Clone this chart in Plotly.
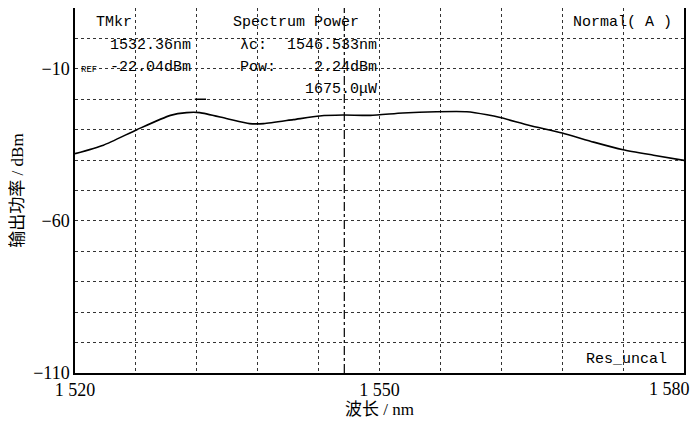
import plotly.graph_objects as go

# Spectrum trace (nm, dBm)
wavelength_nm = [1520.0, 1522.8, 1526.1, 1529.4, 1531.0, 1532.3, 1535.0, 1537.2, 1538.6,
                 1541.5, 1544.1, 1546.4, 1549.1, 1552.3, 1555.6, 1558.6, 1560.6, 1562.0,
                 1564.8, 1568.0, 1571.1, 1574.0, 1577.0, 1580.0]
power_dbm = [-37.9, -35.1, -30.0, -25.3, -24.4, -24.4, -26.4, -28.0, -28.0,
             -26.7, -25.5, -25.2, -25.3, -24.5, -24.1, -24.1, -25.1, -26.1,
             -28.6, -31.1, -34.1, -36.6, -38.4, -40.1]

center_nm = 1546.533
tmkr_nm = 1532.36
tmkr_mark_dbm = -20.0

x_tickvals = [1520, 1550, 1580]
x_ticktext = ["1 520", "1 550", "1 580"]
y_tickvals = [-10, -60, -110]
y_ticktext = ["\u221210", "\u221260", "\u2212110"]

X_RANGE = [1520, 1580]
Y_RANGE = [-110, 10]

fig = go.Figure()
fig.add_trace(go.Scatter(x=wavelength_nm, y=power_dbm, mode="lines",
                         line=dict(color="black", width=1.6, shape="spline", smoothing=0.6),
                         showlegend=False, hoverinfo="skip"))
fig.add_trace(go.Scatter(x=[center_nm, center_nm], y=Y_RANGE, mode="lines",
                         line=dict(color="black", width=1.2, dash="dashdot"),
                         showlegend=False, hoverinfo="skip"))
fig.add_trace(go.Scatter(x=[tmkr_nm], y=[tmkr_mark_dbm], mode="markers",
                         marker=dict(symbol="line-ew", size=8, line=dict(color="black", width=1.5)),
                         showlegend=False, hoverinfo="skip"))

serif = "Liberation Serif, Times New Roman, serif"
cjk = "Liberation Serif, Noto Sans CJK SC, serif"
mono = "Liberation Mono, DejaVu Sans Mono, monospace"
grid_col = "#333333"

# last x tick label sits at the window edge, so it is drawn right-aligned separately
axis_ticktext = x_ticktext[:-1] + [""]

fig.update_xaxes(range=X_RANGE, tickvals=x_tickvals, ticktext=axis_ticktext,
                 showgrid=True, gridcolor=grid_col, griddash="dot", gridwidth=1,
                 minor=dict(tick0=1520, dtick=6, showgrid=True, gridcolor=grid_col,
                            griddash="dot", gridwidth=1),
                 showline=True, linecolor="black", linewidth=1.5, mirror=True,
                 ticks="", zeroline=False, automargin=False, ticklabeloverflow="allow",
                 tickfont=dict(family=serif, size=18, color="black"),
                 title=dict(text="波长 / nm", font=dict(family=cjk, size=17, color="black"),
                            standoff=4))
fig.update_yaxes(range=Y_RANGE, tickvals=y_tickvals, ticktext=y_ticktext,
                 showgrid=True, gridcolor=grid_col, griddash="dot", gridwidth=1,
                 minor=dict(tick0=-110, dtick=10, showgrid=True, gridcolor=grid_col,
                            griddash="dot", gridwidth=1),
                 showline=True, linecolor="black", linewidth=1.5, mirror=True,
                 ticks="", zeroline=False, automargin=False, ticklabeloverflow="allow",
                 tickfont=dict(family=serif, size=18, color="black"),
                 title=dict(text="输出功率 / dBm", font=dict(family=cjk, size=17, color="black"),
                            standoff=12))

fig.add_annotation(text=x_ticktext[-1], x=x_tickvals[-1], xref="x", y=0, yref="paper",
                   xanchor="right", yanchor="middle", xshift=8, yshift=-16,
                   showarrow=False, font=dict(family=serif, size=18, color="black"))

def px_x(px):
    return (px - 75) / 609.0

def px_y(py):
    return (373.3 - py) / 366.0

def note(text, px, py, anchor, size=15):
    fig.add_annotation(text=text, x=px_x(px), y=px_y(py), xref="paper", yref="paper",
                       xanchor=anchor, yanchor="middle", showarrow=False,
                       font=dict(family=mono, size=size, color="black"))

note("TMkr", 94, 22, "left")
note("1532.36nm", 193, 45, "right")
note("-22.04dBm", 193, 67, "right")
note("REF", 79, 69, "left", size=9)
note("Spectrum Power", 231, 22, "left")
note("\u03bbc:", 238, 45, "left")
note("1546.533nm", 379, 45, "right")
note("Pow:", 238, 67, "left")
note("2.24dBm", 379, 67, "right")
note("1675.0\u03bcW", 379, 89, "right")
note("Normal( A )", 571, 22, "left")
note("Res_uncal", 669, 360, "right")

# page body adds an 8px offset, so the figure is sized to fit the 700x425 window
fig.update_layout(width=692, height=417, margin=dict(l=67, r=16, t=0, b=52),
                  plot_bgcolor="white", paper_bgcolor="white")

fig.write_html("out.html")
